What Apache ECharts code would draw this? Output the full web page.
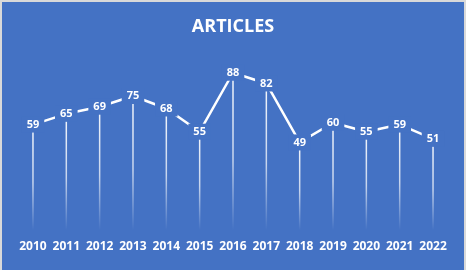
<!DOCTYPE html>
<html><head><meta charset="utf-8">
<script src="https://cdn.jsdelivr.net/npm/echarts@6/dist/echarts.min.js"></script>
<style>
html,body{margin:0;padding:0;background:#d9d9d9;width:466px;height:270px;overflow:hidden}
#c{position:absolute;left:2px;top:2px;width:462px;height:268px}
</style></head><body><div id="c"></div>
<script>
const categories = ['2010','2011','2012','2013','2014','2015','2016','2017','2018','2019','2020','2021','2022'];
const articles = [59,65,69,75,68,55,88,82,49,60,55,59,51];
const titleText = 'ARTICLES';
const BG = '#4472C4';
const chart = echarts.init(document.getElementById('c'));
chart.setOption({
  backgroundColor: BG,
  animation: false,
  title: {text: titleText, left: 'center', top: 11,
    textStyle: {color: '#fff', fontFamily: 'Open Sans', fontWeight: 'bold', fontSize: 18}},
  grid: {left: 14.3, right: 14.3, top: 49.3, bottom: 40},
  xAxis: {type: 'category', data: categories, boundaryGap: true,
    axisLine: {show: false}, axisTick: {show: false},
    axisLabel: {interval: 0, margin: 11, color: '#fff', fontFamily: 'Open Sans', fontWeight: 'bold', fontSize: 12}},
  yAxis: {type: 'value', min: 0, max: 100, show: false, splitLine: {show: false}},
  series: [
    {type: 'bar', data: articles, barWidth: 1.5, silent: true, z: 1,
      itemStyle: {color: new echarts.graphic.LinearGradient(0, 0, 0, 1, [
        {offset: 0, color: 'rgba(255,255,255,0.95)'},
        {offset: 0.55, color: 'rgba(255,255,255,0.7)'},
        {offset: 1, color: 'rgba(255,255,255,0)'}])}},
    {type: 'line', data: articles, z: 2, symbol: 'circle', symbolSize: 1, showSymbol: true,
      itemStyle: {color: '#fff'},
      lineStyle: {color: '#fff', width: 2.5},
      label: {show: true, position: 'inside', color: '#fff', fontFamily: 'Open Sans', fontWeight: 'bold', fontSize: 11,
        backgroundColor: BG, padding: [3, 5, 2, 5]}}
  ]
});
</script></body></html>
